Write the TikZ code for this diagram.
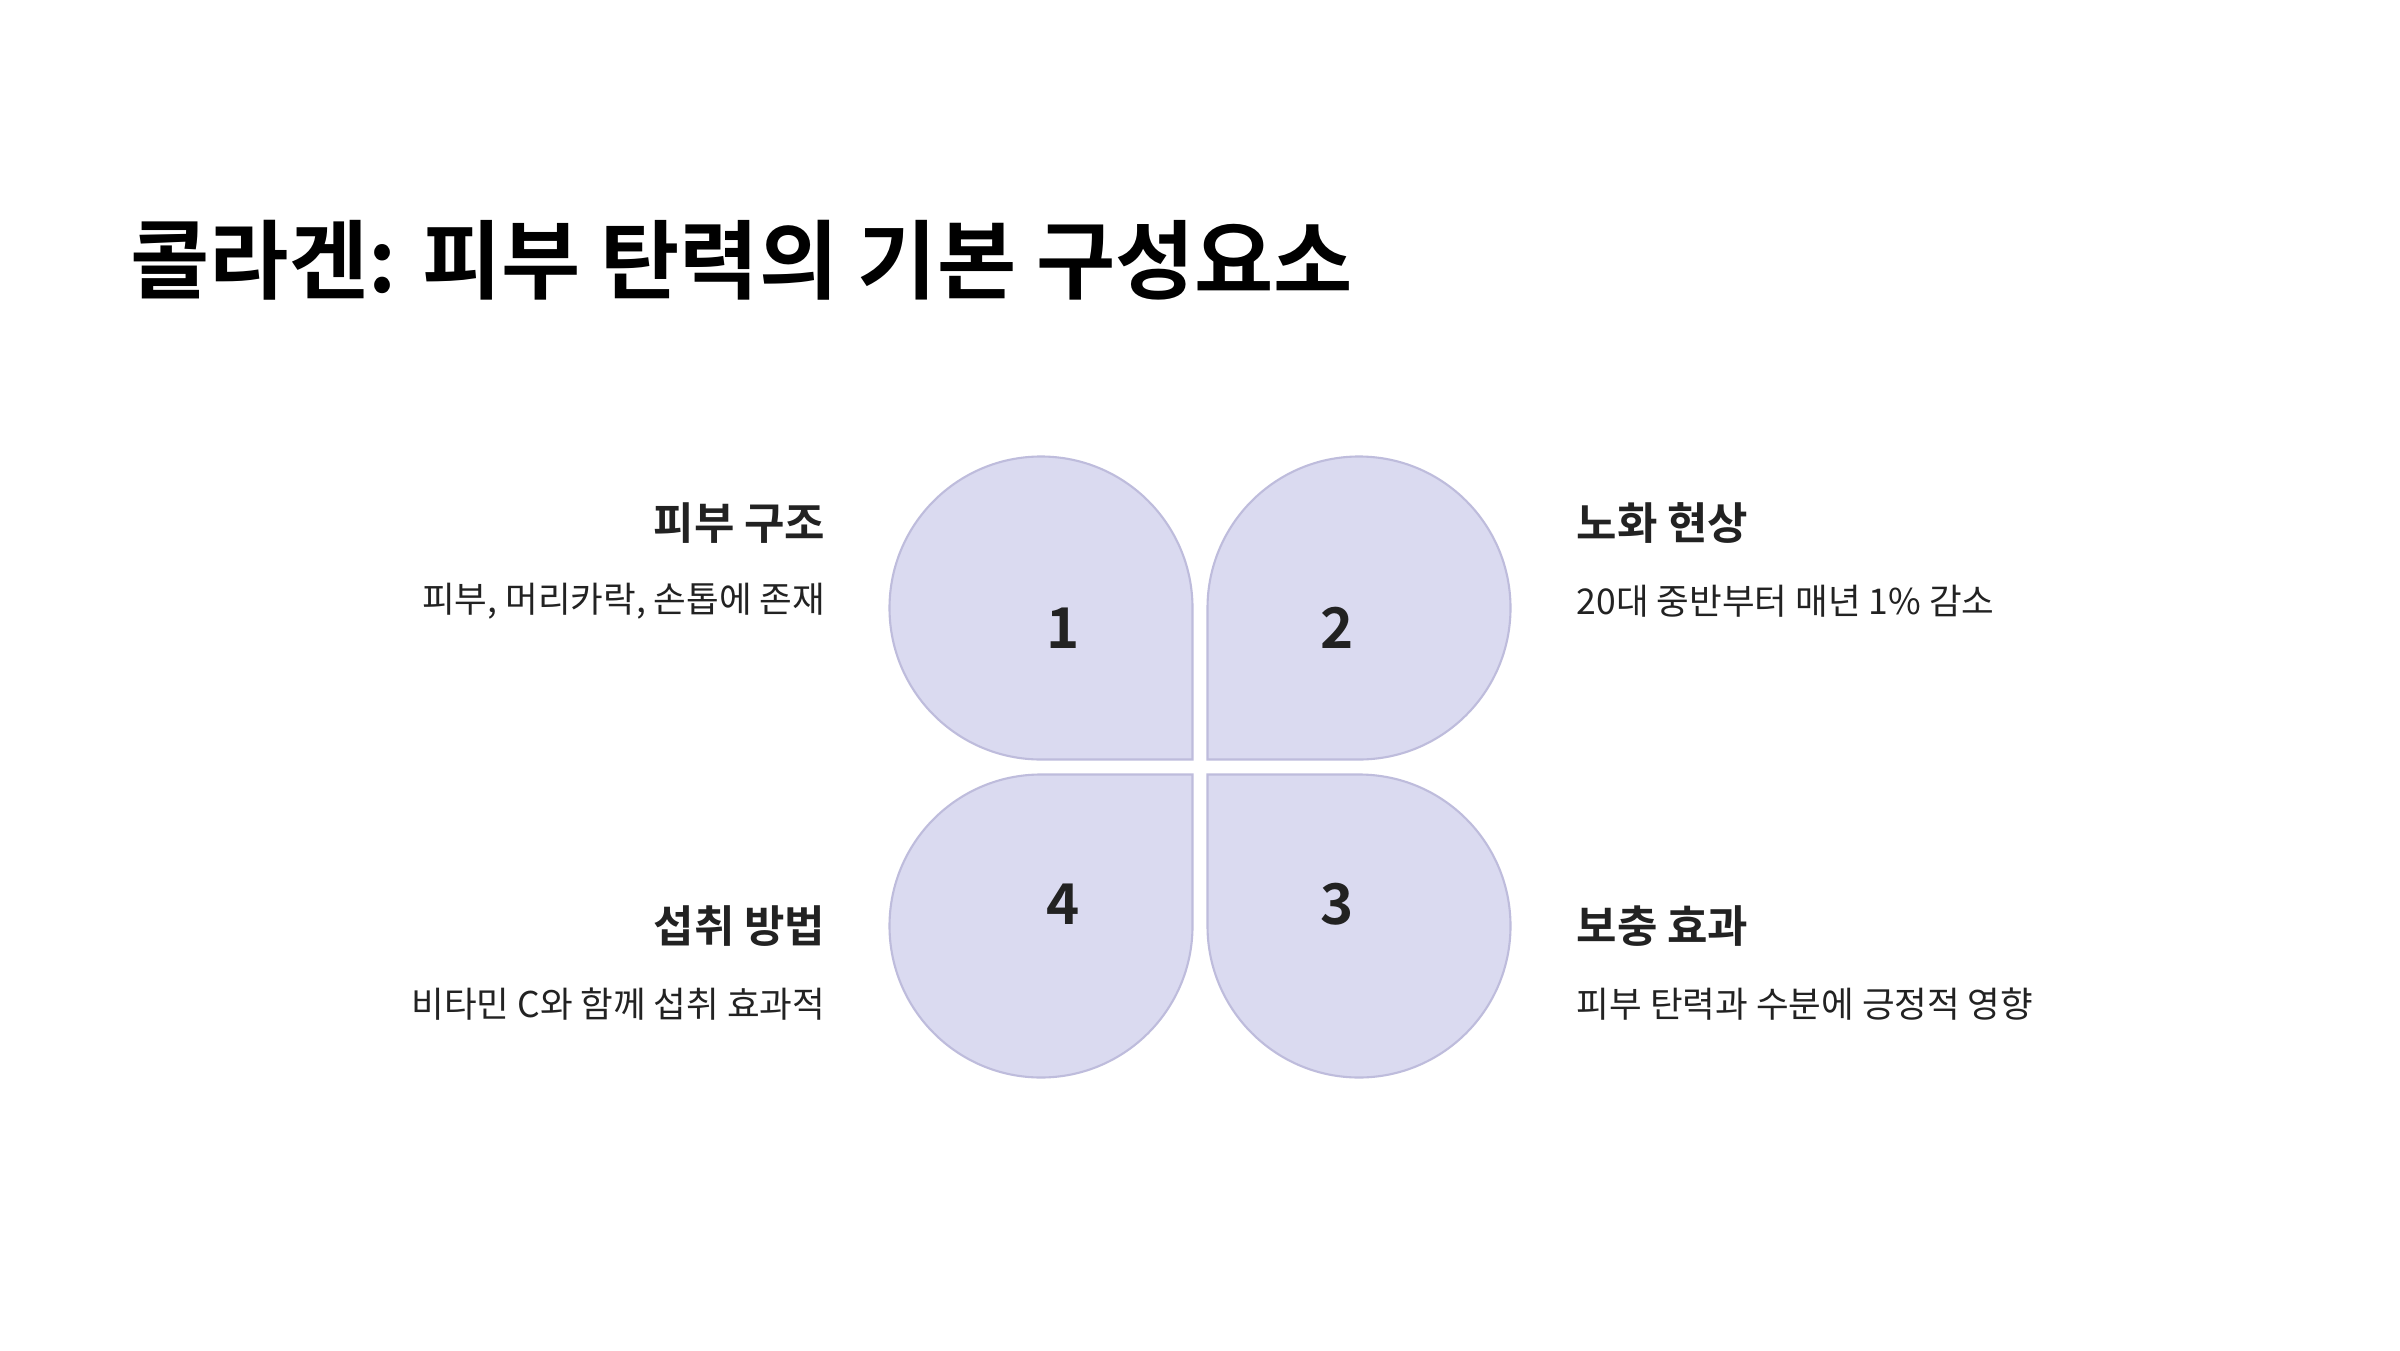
\documentclass[tikz,border=0pt]{standalone}
\usepackage{fontspec}
\setmainfont{Noto Sans CJK KR}
\newfontfamily\krbold{Noto Sans CJK KR Bold}
\definecolor{petalfill}{RGB}{218,218,240}
\definecolor{petaldraw}{RGB}{190,188,220}
\definecolor{txt}{RGB}{34,34,34}
\tikzset{
  petalshape/.style={fill=petalfill, draw=petaldraw, line width=0.6pt},
  numlabel/.style={inner sep=0pt, text=txt, font=\krbold\fontsize{16}{18}\selectfont},
  headlabel/.style={inner sep=0pt, text=txt, font=\krbold\fontsize{12.5}{15}\selectfont},
  desclabel/.style={inner sep=0pt, text=txt, font=\fontsize{10.1}{12}\selectfont},
}
\newcommand{\petalpath}[3]{%
  \begin{scope}[shift={(#1,#2)}, rotate=#3]
    \path[petalshape] (151.5,-151.5) -- (0,-151.5) arc[start angle=270, end angle=0, radius=151.5] -- cycle;
  \end{scope}}
\begin{document}
\begin{tikzpicture}[x=0.01cm, y=0.01cm]
  \useasboundingbox (0,0) rectangle (2400,1350);
  \fill[white] (0,0) rectangle (2400,1350);
  % title
  \node[anchor=west, inner sep=0pt, font=\krbold\fontsize{24.5}{30}\selectfont, text=black] (title) at (130,1090) {콜라겐: 피부 탄력의 기본 구성요소};
  % petals
  \petalpath{1041}{742}{0}
  \petalpath{1359}{742}{-90}
  \petalpath{1359}{424}{180}
  \petalpath{1041}{424}{90}
  % numbers
  \node[numlabel] (n1) at (1063,722) {1};
  \node[numlabel] (n2) at (1337,722) {2};
  \node[numlabel] (n3) at (1337,446) {3};
  \node[numlabel] (n4) at (1063,446) {4};
  % left labels
  \node[headlabel, anchor=east] (h1) at (826,827) {피부 구조};
  \node[desclabel, anchor=east] (d1) at (826,749) {피부, 머리카락, 손톱에 존재};
  \node[headlabel, anchor=east] (h4) at (826,424) {섭취 방법};
  \node[desclabel, anchor=east] (d4) at (826,346) {비타민 C와 함께 섭취 효과적};
  % right labels
  \node[headlabel, anchor=west] (h2) at (1576,827) {노화 현상};
  \node[desclabel, anchor=west] (d2) at (1576,749) {20대 중반부터 매년 1\% 감소};
  \node[headlabel, anchor=west] (h3) at (1576,424) {보충 효과};
  \node[desclabel, anchor=west] (d3) at (1576,346) {피부 탄력과 수분에 긍정적 영향};
\end{tikzpicture}
\end{document}
